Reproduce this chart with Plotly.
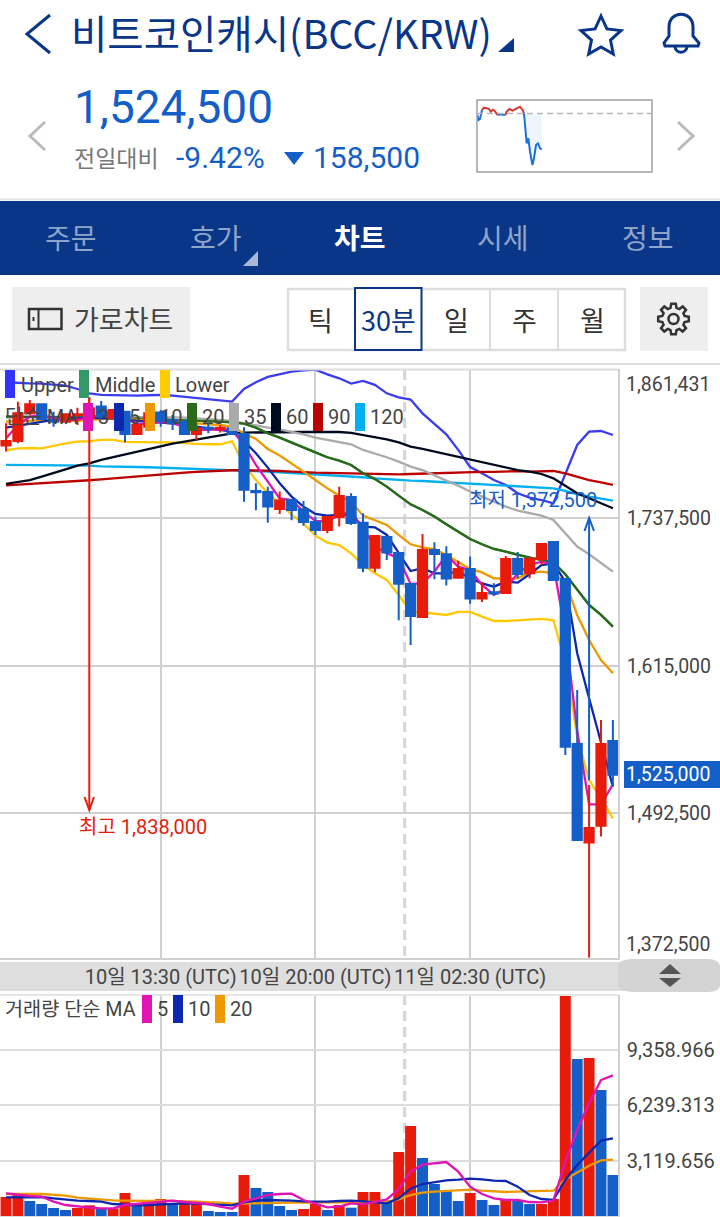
import math

import numpy as np
import pandas as pd
import plotly.graph_objects as go

# prices in thousands of KRW
opens = [1797.9, 1801.7, 1824.7, 1832.2, 1819.2, 1817.8, 1823.3, 1820.6, 1830.3, 1820.6, 1826.1, 1807.6, 1813.6,
         1825.3, 1819.2, 1817.8, 1807.6, 1812.8, 1811.8, 1812.3, 1807.6, 1760.2, 1759.4, 1745.3, 1752.7, 1745.0,
         1734.5, 1727.8, 1738.6, 1755.2, 1733.9, 1696.5, 1722.0, 1708.7, 1683.0, 1655.5, 1711.2, 1707.6, 1688.2,
         1695.4, 1670.8, 1676.0, 1675.5, 1703.7, 1691.8, 1703.7, 1717.8, 1687.1, 1550.0, 1468.1, 1482.2, 1552.5]
highs = [1816.4, 1834.4, 1835.8, 1832.2, 1826.1, 1824.7, 1829.4, 1838.0, 1835.0, 1827.5, 1826.1, 1815.0, 1826.1,
         1827.5, 1823.3, 1819.2, 1816.4, 1816.4, 1815.0, 1813.1, 1813.1, 1766.6, 1763.8, 1759.7, 1752.7, 1751.9,
         1738.9, 1738.6, 1763.8, 1758.3, 1741.7, 1722.8, 1722.0, 1708.7, 1683.0, 1724.5, 1717.6, 1714.2, 1702.3,
         1705.7, 1684.3, 1683.5, 1706.2, 1709.5, 1705.7, 1716.2, 1717.8, 1687.1, 1594.9, 1516.0, 1570.0, 1570.0]
lows = [1792.9, 1799.8, 1823.3, 1819.2, 1813.6, 1817.8, 1815.0, 1818.4, 1820.6, 1820.6, 1800.6, 1807.6, 1813.6,
        1813.6, 1810.9, 1806.7, 1802.6, 1808.1, 1808.7, 1807.6, 1751.3, 1744.1, 1733.9, 1741.1, 1735.8, 1731.4,
        1723.7, 1725.0, 1730.6, 1731.9, 1692.6, 1692.6, 1702.9, 1652.8, 1632.3, 1655.0, 1686.8, 1681.6, 1687.7,
        1666.6, 1668.0, 1673.3, 1675.5, 1687.7, 1687.7, 1698.7, 1686.3, 1540.9, 1470.3, 1372.5, 1473.1, 1514.6]
closes = [1801.7, 1824.7, 1832.2, 1820.0, 1817.8, 1823.9, 1823.9, 1828.9, 1821.9, 1827.5, 1807.6, 1815.0, 1824.7,
          1818.4, 1816.4, 1807.6, 1812.3, 1811.8, 1812.8, 1807.6, 1761.3, 1759.1, 1747.2, 1752.2, 1744.4, 1734.5,
          1727.8, 1738.6, 1756.1, 1733.6, 1696.5, 1722.8, 1709.0, 1683.2, 1656.4, 1711.2, 1707.9, 1687.4, 1695.4,
          1670.8, 1675.5, 1675.0, 1703.7, 1691.3, 1703.7, 1716.2, 1686.3, 1547.8, 1470.3, 1480.3, 1550.0, 1524.5]

bb_upper = [1850.5, 1849.9, 1849.6, 1849.4, 1848.8, 1847.7, 1844.9, 1841.3, 1840.0, 1839.7, 1839.4, 1839.4, 1839.7,
            1840.0, 1839.4, 1838.3, 1837.2, 1836.4, 1835.5, 1834.4, 1844.9, 1850.5, 1854.9, 1857.4, 1859.3, 1860.4,
            1861.0, 1857.1, 1853.8, 1849.4, 1851.6, 1848.3, 1841.3, 1838.0, 1836.1, 1824.7, 1815.6, 1807.3, 1794.3,
            1780.1, 1774.9, 1769.3, 1765.2, 1758.3, 1754.7, 1752.7, 1750.0, 1773.5, 1798.4, 1809.5, 1810.0, 1806.7]
bb_lower = [1794.0, 1795.6, 1795.9, 1795.6, 1797.6, 1799.8, 1801.2, 1801.5, 1802.6, 1802.6, 1800.9, 1800.6, 1800.6,
            1800.6, 1800.6, 1799.8, 1799.3, 1799.0, 1799.0, 1801.5, 1781.8, 1769.3, 1758.3, 1750.0, 1740.3, 1733.3,
            1723.1, 1717.3, 1715.3, 1708.4, 1698.7, 1691.8, 1686.3, 1673.8, 1660.0, 1659.4, 1658.6, 1657.2, 1659.7,
            1659.7, 1655.8, 1652.2, 1652.2, 1652.8, 1653.6, 1653.9, 1652.8, 1618.4, 1556.1, 1520.1, 1504.9, 1488.3]
ma3 = [1804.0, 1815.0, 1821.9, 1823.3, 1820.6, 1819.2, 1819.2, 1821.1, 1823.3, 1821.9, 1820.6, 1816.4, 1815.6,
       1817.8, 1816.4, 1813.6, 1810.9, 1810.9, 1811.4, 1810.9, 1798.4, 1781.8, 1768.0, 1754.1, 1752.7, 1743.0,
       1735.3, 1734.7, 1740.3, 1743.0, 1729.2, 1714.0, 1708.4, 1704.3, 1683.0, 1683.5, 1693.2, 1707.0, 1697.3,
       1694.6, 1682.1, 1673.8, 1679.4, 1691.8, 1698.7, 1701.5, 1698.7, 1643.4, 1561.1, 1499.9, 1499.9, 1516.5]
ma5 = [1812.8, 1814.5, 1815.6, 1817.8, 1819.2, 1820.6, 1821.1, 1821.1, 1820.6, 1820.6, 1819.2, 1818.4, 1817.8,
       1817.2, 1816.4, 1815.6, 1813.6, 1812.3, 1810.9, 1809.5, 1801.7, 1791.5, 1779.6, 1766.6, 1755.5, 1747.2,
       1741.1, 1739.7, 1740.3, 1740.3, 1730.6, 1730.0, 1723.7, 1708.4, 1693.7, 1696.0, 1691.8, 1691.8, 1693.2,
       1687.7, 1683.5, 1680.7, 1684.9, 1684.1, 1691.0, 1698.7, 1700.1, 1684.9, 1625.4, 1588.0, 1550.6, 1514.6]
ma10 = [1817.8, 1817.8, 1818.4, 1819.2, 1819.2, 1818.4, 1818.4, 1819.2, 1819.7, 1820.6, 1820.0, 1819.2, 1819.2,
        1819.2, 1818.4, 1817.2, 1816.4, 1815.6, 1815.0, 1813.6, 1808.1, 1803.4, 1795.1, 1789.6, 1783.2, 1776.3,
        1769.3, 1762.4, 1756.3, 1751.3, 1739.7, 1736.1, 1732.0, 1723.7, 1715.9, 1713.4, 1712.0, 1707.0, 1701.5,
        1695.4, 1692.6, 1687.7, 1687.1, 1687.7, 1692.6, 1693.2, 1691.8, 1684.9, 1657.2, 1636.4, 1619.8, 1608.7]
ma20 = [1821.9, 1821.9, 1821.9, 1821.7, 1821.7, 1821.4, 1821.4, 1821.1, 1821.1, 1820.8, 1820.6, 1820.3, 1820.0,
        1819.7, 1819.5, 1818.9, 1818.6, 1818.1, 1817.8, 1817.2, 1816.1, 1812.8, 1808.1, 1804.5, 1800.6, 1796.5,
        1792.3, 1788.2, 1785.4, 1781.8, 1774.9, 1770.2, 1763.8, 1756.3, 1749.1, 1744.4, 1738.9, 1732.5, 1726.4,
        1720.3, 1715.9, 1712.0, 1709.8, 1707.0, 1704.8, 1702.9, 1701.0, 1691.0, 1678.0, 1665.5, 1657.2, 1647.5]
ma35 = [1821.1, 1821.1, 1821.4, 1821.4, 1821.7, 1821.9, 1821.9, 1821.9, 1821.9, 1821.9, 1821.9, 1821.9, 1821.9,
        1821.7, 1821.4, 1821.1, 1820.6, 1820.0, 1819.2, 1818.4, 1816.4, 1815.0, 1812.8, 1811.4, 1809.5, 1807.3,
        1804.5, 1802.6, 1800.6, 1799.0, 1794.3, 1791.5, 1788.2, 1784.6, 1780.4, 1777.6, 1773.5, 1768.8, 1764.6,
        1759.7, 1755.5, 1751.3, 1747.2, 1743.9, 1741.7, 1739.7, 1736.1, 1725.0, 1714.0, 1707.6, 1700.1, 1693.2]
ma60 = [1766.0, 1767.4, 1769.3, 1772.1, 1774.9, 1778.2, 1781.2, 1783.2, 1786.0, 1788.2, 1790.7, 1792.9, 1795.1,
        1797.6, 1799.5, 1801.2, 1802.8, 1804.5, 1806.2, 1808.1, 1808.7, 1808.9, 1809.2, 1809.2, 1809.2, 1809.2,
        1809.2, 1809.2, 1809.2, 1808.4, 1806.7, 1805.3, 1803.1, 1800.6, 1797.0, 1795.1, 1792.9, 1790.9, 1788.7,
        1786.0, 1783.7, 1781.8, 1779.6, 1777.6, 1776.3, 1774.3, 1770.7, 1764.6, 1758.3, 1754.1, 1750.0, 1745.8]
ma90 = [1764.9, 1765.5, 1765.7, 1766.3, 1766.9, 1767.4, 1768.2, 1769.1, 1769.9, 1770.7, 1771.8, 1772.7, 1773.5,
        1774.0, 1774.9, 1775.4, 1776.0, 1776.5, 1777.1, 1777.4, 1777.4, 1777.4, 1777.1, 1776.8, 1776.3, 1775.7,
        1775.4, 1775.2, 1774.9, 1774.6, 1774.3, 1774.0, 1774.0, 1774.0, 1774.3, 1774.6, 1775.4, 1775.7, 1776.0,
        1776.0, 1776.0, 1776.0, 1776.3, 1776.8, 1776.3, 1776.5, 1776.8, 1774.9, 1772.1, 1769.3, 1767.4, 1765.2]
ma120 = [1781.8, 1781.8, 1781.8, 1781.8, 1781.5, 1781.5, 1781.2, 1781.2, 1780.7, 1780.7, 1780.4, 1780.1, 1779.9,
         1779.6, 1779.0, 1778.8, 1778.5, 1778.2, 1777.9, 1777.7, 1777.4, 1776.8, 1776.3, 1775.7, 1775.2, 1774.6,
         1774.0, 1773.5, 1772.9, 1772.1, 1771.6, 1770.7, 1769.9, 1769.1, 1768.8, 1768.5, 1768.0, 1767.4, 1766.6,
         1766.0, 1765.7, 1765.2, 1764.6, 1764.1, 1763.8, 1763.5, 1762.4, 1760.2, 1757.4, 1755.5, 1753.6, 1752.2]

volumes = [1071, 1184, 846, 676, 451, 338, 451, 601, 395, 432, 1297, 620, 789, 958, 714, 789, 789, 282, 225, 225,
           2311, 1578, 1353, 564, 338, 395, 676, 338, 620, 470, 1353, 1353, 789, 3608, 5073, 3269, 1804, 1466, 846,
           1297, 902, 620, 902, 902, 676, 676, 958, 12477, 8850, 8906, 7103, 2311]
volume_up = [1, 1, 0, 0, 0, 0, 1, 1, 0, 1, 1, 0, 1, 1, 0, 1, 1, 0, 0, 0, 1, 0, 0, 0, 0, 1, 1, 0, 1, 0,
             1, 1, 0, 1, 1, 0, 0, 0, 0, 1, 0, 0, 1, 0, 0, 1, 1, 1, 0, 1, 0, 0]
vol_ma5 = [1278, 1184, 1127, 1090, 808, 620, 526, 470, 432, 432, 620, 676, 752, 827, 864, 789, 752, 676, 526, 413,
           808, 996, 1184, 1240, 1259, 902, 676, 489, 526, 714, 658, 808, 940, 1522, 2499, 2894, 2969, 3044, 2499,
           1654, 1240, 996, 902, 902, 789, 770, 864, 3063, 4848, 6351, 7666, 7929]
vol_ma10 = [1052, 1052, 1071, 1071, 996, 921, 864, 846, 808, 676, 639, 601, 620, 658, 714, 714, 695, 658, 601, 601,
            770, 864, 902, 902, 864, 827, 808, 808, 846, 864, 827, 752, 714, 996, 1541, 1804, 1898, 2011, 2048,
            2104, 2067, 1992, 1973, 1654, 1184, 958, 902, 2029, 2875, 3533, 4247, 4378]
vol_ma20 = [1240, 1259, 1240, 1240, 1184, 1146, 1033, 977, 940, 883, 864, 846, 846, 864, 864, 827, 808, 789, 752, 695,
            714, 733, 752, 752, 752, 752, 752, 752, 752, 752, 770, 789, 808, 940, 1184, 1315, 1372, 1409, 1428,
            1484, 1428, 1372, 1353, 1372, 1390, 1409, 1428, 2067, 2461, 2837, 3138, 3175]

price_ticks = [1737500, 1615000, 1492500]
price_labels = ["1,737,500", "1,615,000", "1,492,500"]
volume_ticks = [3119.656, 6239.313, 9358.966]
volume_labels = ["3,119.656", "6,239.313", "9,358.966"]
time_ticks = [13, 26, 39]
time_labels = ["10일 13:30 (UTC)", "10일 20:00 (UTC)", "11일 02:30 (UTC)"]

# mini chart in the header, split where it crosses the previous close
spark_close = 1683.0
spark_x1 = [0.7, 1.7, 3.3, 5.3]
spark_y1 = [1677.1, 1654.8, 1659.3, 1699.3]
spark_x2 = [5.3, 7.3, 10, 12.3, 14, 16, 18, 20.7]
spark_y2 = [1699.3, 1709.7, 1706.7, 1703.7, 1691.9, 1700.8, 1694.9, 1677.1]
spark_x3 = [20.7, 23.3, 26.7, 28.7]
spark_y3 = [1677.1, 1680.0, 1678.6, 1677.1]
spark_x4 = [28.7, 30, 32.7, 36, 40, 43.3, 46, 47.3]
spark_y4 = [1677.1, 1691.9, 1703.7, 1696.3, 1706.7, 1714.1, 1699.3, 1683.0]
spark_x5 = [47.3, 48.3, 50, 51.7, 53.3, 55.7, 57.3, 59.3, 61.3, 63.3, 65]
spark_y5 = [1683.0, 1632.6, 1551.1, 1573.3, 1514.1, 1454.8, 1484.4, 1543.7, 1551.1, 1528.9, 1524.5]

W, H = 720, 1217
NAVY = "#0a3688"
RED = "#e81b0a"
BLUE = "#145ec8"
GREY_TEXT = "#444444"
FONT = "Roboto, 'Noto Sans CJK KR', sans-serif"
KR_FONT = "'Noto Sans CJK KR', sans-serif"
LINE_W = 2.3

df = pd.DataFrame({"open": opens, "high": highs, "low": lows, "close": closes}) * 1000
df["i"] = np.arange(len(df))
price_range = [1372500, 1861431]
x_range = [-6 / 11.9, 612 / 11.9]


def dom_x(a, b):
    return [a / W, b / W]


def dom_y(top, bottom):
    return [1 - bottom / H, 1 - top / H]


fig = go.Figure()

# invisible trace so the full-page pixel axes exist for the interface shapes
fig.add_trace(go.Scatter(x=[0], y=[0], mode="none", xaxis="x4", yaxis="y4", showlegend=False))

price_lines = [
    (bb_upper, "#3c3cf0"), (ma20, "#339966"), (bb_lower, "#ffc800"), (ma120, "#00b0f0"), (ma90, "#bb0000"),
    (ma60, "#000a1e"), (ma35, "#aaaaaa"), (ma20, "#2a6a18"), (ma10, "#ee9900"), (ma5, "#0d28ae"), (ma3, "#e013b4"),
]
for values, color in price_lines:
    fig.add_trace(go.Scatter(x=df["i"], y=np.array(values) * 1000, mode="lines", showlegend=False,
                             line=dict(color=color, width=LINE_W), xaxis="x", yaxis="y"))

# candles sit on an overlaying axis, otherwise the lines would be drawn over them
fig.add_trace(go.Candlestick(
    x=df["i"], open=df["open"], high=df["high"], low=df["low"], close=df["close"],
    increasing=dict(line=dict(color=RED, width=2), fillcolor=RED),
    decreasing=dict(line=dict(color=BLUE, width=2), fillcolor=BLUE),
    whiskerwidth=0, showlegend=False, xaxis="x", yaxis="y5",
))

# high and low markers
fig.add_trace(go.Scatter(x=[7, 7], y=[1838000, 1495200], mode="lines", showlegend=False,
                         line=dict(color=RED, width=2), xaxis="x", yaxis="y5"))
fig.add_trace(go.Scatter(x=[49, 49], y=[1520000, 1737500], mode="lines", showlegend=False,
                         line=dict(color=BLUE, width=2), xaxis="x", yaxis="y5"))

# volume panel
fig.add_trace(go.Bar(x=df["i"], y=volumes, width=0.92, showlegend=False, xaxis="x2", yaxis="y2",
                     marker=dict(color=[RED if up else BLUE for up in volume_up], line=dict(width=0))))
for values, color in [(vol_ma20, "#ee9900"), (vol_ma10, "#0d28ae"), (vol_ma5, "#e013b4")]:
    fig.add_trace(go.Scatter(x=df["i"], y=values, mode="lines", showlegend=False,
                             line=dict(color=color, width=LINE_W), xaxis="x2", yaxis="y2"))

# header mini chart
fig.add_trace(go.Scatter(x=spark_x5, y=[spark_close * 1000] * len(spark_x5), mode="lines", showlegend=False,
                         line=dict(width=0), xaxis="x3", yaxis="y3"))
fig.add_trace(go.Scatter(x=spark_x5, y=np.array(spark_y5) * 1000, mode="lines", showlegend=False, fill="tonexty",
                         fillcolor="rgba(30,120,220,0.07)", line=dict(color="#1a72d8", width=2),
                         xaxis="x3", yaxis="y3"))
for xs, ys, color in [(spark_x1, spark_y1, "#1a72d8"), (spark_x2, spark_y2, "#d43a30"),
                      (spark_x3, spark_y3, "#1a72d8"), (spark_x4, spark_y4, "#d43a30")]:
    fig.add_trace(go.Scatter(x=xs, y=np.array(ys) * 1000, mode="lines", showlegend=False,
                             line=dict(color=color, width=2), xaxis="x3", yaxis="y3"))

shapes = []
annotations = []


def rect(x0, y0, x1, y1, fill=None, line=None, width=0, layer="below"):
    shapes.append(dict(type="rect", xref="x4", yref="y4", x0=x0, y0=y0, x1=x1, y1=y1, layer=layer,
                       fillcolor=fill or "rgba(0,0,0,0)",
                       line=dict(color=line or "rgba(0,0,0,0)", width=width)))


def path(d, fill=None, line=None, width=0, layer="above"):
    shapes.append(dict(type="path", xref="x4", yref="y4", path=d, layer=layer,
                       fillcolor=fill or "rgba(0,0,0,0)",
                       line=dict(color=line or "rgba(0,0,0,0)", width=width)))


def hline(x0, x1, y, color, width=1, dash="solid", layer="below"):
    shapes.append(dict(type="line", xref="x4", yref="y4", x0=x0, x1=x1, y0=y, y1=y, layer=layer,
                       line=dict(color=color, width=width, dash=dash)))


def label(x, y, text, size, color=GREY_TEXT, anchor="center", font=FONT):
    if anchor == "left":
        x -= 1.5  # annotation boxes start a little right of x
    annotations.append(dict(xref="x4", yref="y4", x=x, y=y, text=text, showarrow=False, xanchor=anchor,
                            yanchor="middle", borderpad=0, font=dict(family=font, size=size, color=color)))


# top bar
path("M 50 15 L 27 34 L 50 53", line=NAVY, width=3)
label(71, 31.5, "비트코인캐시(BCC/KRW)", 39.5, NAVY, "left", KR_FONT)
path("M 514 38 L 514 52 L 498 52 Z", fill=NAVY)
star = []
for k in range(10):
    r = 21 if k % 2 == 0 else 10
    a = -math.pi / 2 + k * math.pi / 5
    star.append(f"{601 + r * math.cos(a):.1f} {37 + r * math.sin(a):.1f}")
path("M " + " L ".join(star) + " Z", line=NAVY, width=3)
path("M 665 46 L 664 43 L 669 36 L 669 27 C 669 10 693 10 693 27 L 693 36 L 699 43 L 698 46 Z", line=NAVY, width=3)
path("M 675 47 C 676 54 686 54 687 47", line=NAVY, width=3)

# price block
label(74.5, 107, "1,524,500", 46, BLUE, "left")
path("M 45 122 L 30 136 L 45 150", line="#bbbbbb", width=3)
path("M 678 122 L 693 136 L 678 150", line="#bbbbbb", width=3)
label(74, 156.5, "전일대비", 23, "#777777", "left", KR_FONT)
label(176, 157, "-9.42%", 30, BLUE, "left")
path("M 284 152 L 304 152 L 294 165 Z", fill=BLUE)
label(313, 157, "158,500", 30, BLUE, "left")
rect(477, 100, 652, 172, line="#a0a0a0", width=1.5)
hline(477, 652, 113.5, "#b8b8b8", 1.5, "6px,4px")

# navigation tabs
hline(0, W, 199.5, "#e6e6e6", 2)
rect(0, 201, W, 275, fill=NAVY)
for tx, tab, color in [(71, "주문", "#8fa4c9"), (216, "호가", "#8fa4c9"), (503, "시세", "#8fa4c9"),
                       (648, "정보", "#8fa4c9")]:
    label(tx, 237, tab, 28, color, font=KR_FONT)
label(360, 237, "<b>차트</b>", 28, "#ffffff", font=KR_FONT)
path("M 258 251 L 258 266 L 243 266 Z", fill="#a9b8d8")

# toolbar
rect(12, 287, 190, 351, fill="#eeeeee")
shapes.append(dict(type="rect", xref="x4", yref="y4", x0=29, y0=309, x1=61.5, y1=329, layer="above",
                   line=dict(color="#333333", width=2.5)))
path("M 38.5 309 L 38.5 329", line="#333333", width=2)
path("M 33.5 317 L 33.5 321", line="#333333", width=2)
label(123.5, 318, "가로차트", 27, "#444444", font=KR_FONT)
rect(288, 289, 625, 350, fill="#ffffff", line="#dddddd", width=2.5)
path("M 490 289 L 490 350", line="#dddddd", width=2)
path("M 558 289 L 558 350", line="#dddddd", width=2)
rect(355, 288, 421.5, 350, fill="#ffffff", line=NAVY, width=2, layer="above")
for tx, tab, color in [(320, "틱", "#333333"), (388, "30분", NAVY), (456, "일", "#333333"), (524, "주", "#333333"),
                       (592, "월", "#333333")]:
    label(tx, 319, tab, 27, color, font=KR_FONT)
rect(640, 287, 708, 351, fill="#eeeeee")
gear = []
for k in range(8):
    base = k * math.pi / 4
    for off, r in [(-0.26, 11.5), (-0.15, 15.5), (0.15, 15.5), (0.26, 11.5)]:
        gear.append(f"{673.5 + r * math.cos(base + off):.1f} {319 + r * math.sin(base + off):.1f}")
path("M " + " L ".join(gear) + " Z", line="#333333", width=2.5)
shapes.append(dict(type="circle", xref="x4", yref="y4", x0=668.5, y0=314, x1=678.5, y1=324, layer="above",
                   line=dict(color="#333333", width=2.5)))
hline(0, W, 364, "#dddddd", 2)

# time band between the panels: paper x puts these under every subplot, so the axis labels stay on top
shapes.append(dict(type="rect", xref="paper", yref="y4", x0=0, x1=625 / W, y0=962, y1=991, layer="below",
                   fillcolor="#dedede", line=dict(width=0)))
shapes.append(dict(type="path", xref="paper", yref="y4", layer="below", fillcolor="#d4d4d4", line=dict(width=0),
                   path=(f"M {632 / W} 959 L {708 / W} 959 C {716 / W} 959 1 963 1 966 L 1 985 "
                         f"C 1 989 {716 / W} 992 {708 / W} 992 L {632 / W} 992 C {624 / W} 992 {618 / W} 988 "
                         f"{618 / W} 985 L {618 / W} 966 C {618 / W} 962 {624 / W} 959 {632 / W} 959 Z")))
path("M 670 964 L 681 974 L 659 974 Z", fill="#555555")
path("M 659 978 L 681 978 L 670 987 Z", fill="#555555")

# arrow heads of the high and low markers
path("M 84.5 797 L 89.3 810 L 94 797", line=RED, width=2)
path("M 584.5 531 L 589.1 518 L 594 531", line=BLUE, width=2)

# day boundary, drawn through both panels
for top, bottom in [(370, 958), (995, 1216)]:
    shapes.append(dict(type="line", xref="x", yref="y4", x0=33.5, x1=33.5, y0=top, y1=bottom, layer="below",
                       line=dict(color="#d6d6d6", width=3, dash="10px,6px")))
hline(0, 618, 369.5, "#dddddd", 2)
hline(0, 618, 995, "#e6e6e6", 2)

# chart legends
for x0, color in [(5, "#3333ff"), (79, "#339966"), (160, "#ffcc00")]:
    rect(x0, 370, x0 + 10, 398, fill=color, layer="above")
for x0, text in [(21, "Upper"), (95, "Middle"), (175, "Lower")]:
    label(x0, 384.5, text, 20, GREY_TEXT, "left")
label(5, 417, "단순 MA", 20, GREY_TEXT, "left")
ma_keys = [(83, "#e013b4", "3"), (114, "#0d28ae", "5"), (145, "#ee9900", "10"), (187, "#2a6a18", "20"),
           (229, "#aaaaaa", "35"), (271, "#000a1e", "60"), (313, "#bb0000", "90"), (355, "#00b0f0", "120")]
for x0, color, text in ma_keys:
    rect(x0, 403, x0 + 10, 431, fill=color, layer="above")
    label(x0 + 15, 417, text, 20, GREY_TEXT, "left")
label(5, 1009, "거래량 단순 MA", 19.7, GREY_TEXT, "left")
for x0, color, text in [(142, "#e013b4", "5"), (173, "#0d28ae", "10"), (215, "#ee9900", "20")]:
    rect(x0, 995, x0 + 10, 1023, fill=color, layer="above")
    label(x0 + 15, 1009, text, 20, GREY_TEXT, "left")

# labels that do not follow the axis ticks
label(626.5, 384, "1,861,431", 19.5, GREY_TEXT, "left")
label(626.5, 944, "1,372,500", 19.5, GREY_TEXT, "left")
label(143, 827, "최고 1,838,000", 20, RED)
label(532.5, 500, "최저 1,372,500", 20, BLUE)
rect(624, 761, W, 788, fill=BLUE, layer="above")
label(626.5, 774.5, "1,525,000", 19.5, "#ffffff", "left")

fig.update_layout(
    width=W, height=H, margin=dict(l=0, r=0, t=0, b=0), paper_bgcolor="white", plot_bgcolor="rgba(0,0,0,0)",
    showlegend=False, barmode="overlay", boxgap=0.1, boxgroupgap=0.14, hovermode=False, dragmode=False,
    shapes=shapes, annotations=annotations,
    xaxis=dict(domain=dom_x(0, 618), range=x_range, tickmode="array", tickvals=time_ticks, ticktext=time_labels,
               showgrid=True, gridcolor="#d0d0d0", gridwidth=1.5, zeroline=False, showline=True,
               linecolor="#d0d0d0", linewidth=1.5, anchor="y", rangeslider=dict(visible=False), ticks="",
               ticklabelstandoff=1, tickfont=dict(family=FONT, size=20, color=GREY_TEXT), tickangle=0),
    yaxis=dict(domain=dom_y(369.1, 957.7), range=price_range, side="right", anchor="x", tickmode="array",
               tickvals=price_ticks, ticktext=price_labels, showgrid=True, gridcolor="#d0d0d0", gridwidth=1.5,
               zeroline=False, showline=True, linecolor="#d0d0d0", linewidth=1.5, ticks="", ticklabelstandoff=3,
               tickfont=dict(family=FONT, size=19.5, color=GREY_TEXT)),
    yaxis5=dict(overlaying="y", range=price_range, side="right", anchor="x", visible=False, showgrid=False),
    xaxis2=dict(domain=dom_x(0, 618), range=x_range, tickmode="array", tickvals=time_ticks, showticklabels=False,
                showgrid=True, gridcolor="#d0d0d0", gridwidth=1.5, zeroline=False, showline=True,
                linecolor="#dddddd", linewidth=1.5, anchor="y2", ticks=""),
    yaxis2=dict(domain=dom_y(994.7, 1216), range=[0, 12478], side="right", anchor="x2", tickmode="array",
                tickvals=volume_ticks, ticktext=volume_labels, showgrid=True, gridcolor="#dddddd", gridwidth=1.5,
                zeroline=False, showline=True, linecolor="#d0d0d0", linewidth=1.5, ticks="", ticklabelstandoff=3,
                tickfont=dict(family=FONT, size=20, color=GREY_TEXT)),
    xaxis3=dict(domain=dom_x(476.7, 651.7), range=[0, 175], visible=False, anchor="y3"),
    yaxis3=dict(domain=dom_y(100, 171), range=[1428000, 1743800], visible=False, anchor="x3"),
    xaxis4=dict(domain=[0, 1], range=[0, W], visible=False, anchor="y4", fixedrange=True),
    yaxis4=dict(domain=[0, 1], range=[H, 0], visible=False, anchor="x4", fixedrange=True),
)

fig.write_html("out.html", config=dict(displayModeBar=False), post_script="document.body.style.margin='0';")
